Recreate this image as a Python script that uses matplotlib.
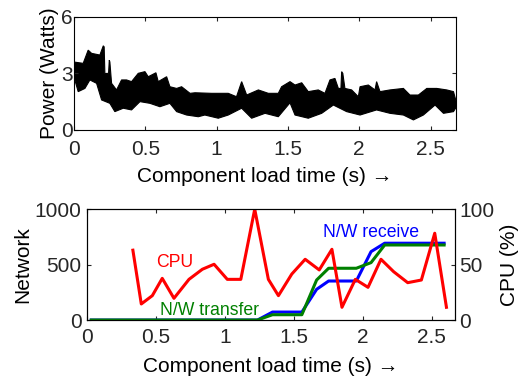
import numpy as np
import matplotlib
matplotlib.use('Agg')
import matplotlib.pyplot as plt

plt.rcParams['font.family'] = ['Liberation Sans', 'DejaVu Sans']

# power trace envelope (Watts)
t_hi = [0.0, 0.065, 0.10, 0.124, 0.182, 0.206, 0.212, 0.217, 0.243, 0.248, 0.252, 0.264, 0.299, 0.334,
        0.369, 0.404, 0.451, 0.498, 0.521, 0.575, 0.591, 0.650, 0.673, 0.72, 0.755, 0.814, 0.849,
        0.965, 1.082, 1.14, 1.176, 1.211, 1.293, 1.363, 1.433, 1.456, 1.515, 1.55, 1.597, 1.643,
        1.713, 1.76, 1.795, 1.830, 1.854, 1.872, 1.877, 1.885, 1.9, 1.947, 1.994, 2.006, 2.064,
        2.111, 2.122, 2.146, 2.216, 2.31, 2.356, 2.415, 2.474, 2.544, 2.614, 2.661, 2.68]
p_hi = [3.6, 3.53, 4.23, 4.06, 3.97, 4.46, 4.4, 2.99, 3.0, 3.70, 3.6, 2.47, 2.12, 2.65,
        2.65, 2.56, 3.0, 3.09, 2.82, 3.03, 2.56, 2.82, 2.29, 2.2, 2.29, 1.94, 1.97,
        1.94, 1.94, 1.76, 2.56, 1.85, 2.12, 1.94, 1.94, 2.29, 2.56, 2.38, 2.5, 2.03,
        2.12, 1.94, 2.65, 2.73, 2.2, 2.2, 3.09, 3.0, 2.2, 2.12, 1.76, 2.29, 2.38,
        2.12, 2.56, 2.03, 2.12, 2.2, 1.85, 1.85, 2.2, 2.2, 2.12, 2.03, 1.5]
t_lo = [0.0, 0.03, 0.077, 0.112, 0.159, 0.194, 0.252, 0.287, 0.346, 0.404, 0.463, 0.533, 0.603,
        0.673, 0.72, 0.79, 0.872, 0.918, 1.012, 1.082, 1.176, 1.246, 1.34, 1.433, 1.515, 1.55,
        1.643, 1.737, 1.819, 1.912, 2.006, 2.122, 2.216, 2.31, 2.38, 2.45, 2.532, 2.591, 2.661, 2.68]
p_lo = [2.82, 2.03, 2.2, 2.65, 2.47, 1.59, 1.41, 0.97, 1.15, 1.06, 1.5, 1.41, 1.23,
        1.41, 0.97, 0.79, 0.7, 0.79, 0.62, 0.79, 1.15, 0.62, 0.88, 0.7, 1.44, 0.79,
        0.62, 0.88, 1.32, 0.97, 0.79, 1.06, 0.88, 0.79, 0.53, 0.79, 1.32, 0.88, 0.97, 1.2]

# CPU utilisation (%)
t_cpu = [0.332, 0.393, 0.473, 0.545, 0.63, 0.739, 0.836, 0.921, 1.017, 1.115, 1.216, 1.315, 1.388,
         1.485, 1.582, 1.684, 1.776, 1.849, 1.946, 2.038, 2.132, 2.224, 2.326, 2.425, 2.522, 2.607]
cpu = [63, 14.5, 22, 37.6, 19.6, 36.7, 45.8, 50.3, 36.7, 36.7, 100, 36.7, 22,
       41.5, 54.8, 45.2, 63.8, 11.5, 36.7, 29.5, 54.8, 43.6, 33.7, 36.1, 78.3, 11.5]

# network
t_net = [0.03, 1.236, 1.345, 1.558, 1.665, 1.752, 1.953, 2.06, 2.159, 2.59]
nw_rx = [0, 0, 72, 72, 277, 352, 352, 617, 693, 693]
nw_tx = [0, 0, 48, 48, 361, 467, 467, 518, 677, 677]

xt = [0, 0.5, 1, 1.5, 2, 2.5]
xtl = ['0', '0.5', '1', '1.5', '2', '2.5']

fig = plt.figure(figsize=(5.28, 3.81), dpi=100)
tick_fs = 15
lab_fs = 15
txt_fs = 12.7

ax1 = fig.add_axes([0.140, 0.659, 0.724, 0.297])
ax1.fill(np.concatenate([t_hi, t_lo[::-1]]), np.concatenate([p_hi, p_lo[::-1]]),
         color='black', lw=0.8, edgecolor='black')
ax1.set_xlim(0, 2.68)
ax1.set_ylim(0, 6)
ax1.set_yticks([0, 3, 6])
ax1.set_xticks(xt)
ax1.set_xticklabels(xtl)
ax1.set_ylabel('Power (Watts)', fontsize=lab_fs, labelpad=1)
ax1.set_xlabel('Component load time (s) \u2192', fontsize=lab_fs, labelpad=6)
ax1.tick_params(direction='in', top=True, right=True, length=3, labelsize=tick_fs,
                colors='#262626')
ax1.tick_params(axis='x', pad=7)
ax1.tick_params(axis='y', pad=1)

ax2 = fig.add_axes([0.165, 0.160, 0.697, 0.291])
ax2.plot(t_net, nw_rx, color='blue', lw=2.2)
ax2.plot(t_net, nw_tx, color='green', lw=2.2)
ax2.set_xlim(0, 2.67)
ax2.set_ylim(0, 1000)
ax2.set_yticks([0, 500, 1000])
ax2.set_xticks(xt)
ax2.set_xticklabels(xtl)
ax2.set_ylabel('Network', fontsize=lab_fs, labelpad=2)
ax2.set_xlabel('Component load time (s) \u2192', fontsize=lab_fs, labelpad=7)
ax2.tick_params(direction='in', top=True, length=3, labelsize=tick_fs, colors='#262626')
ax2.tick_params(axis='x', pad=6)
ax2.tick_params(axis='y', pad=4)
ax2.text(0.885, 90, 'N/W transfer', color='green', fontsize=txt_fs, ha='center', va='center')
ax2.text(2.06, 789, 'N/W receive', color='blue', fontsize=txt_fs, ha='center', va='center')
ax2.text(0.635, 518, 'CPU', color='red', fontsize=txt_fs, ha='center', va='center')

ax3 = ax2.twinx()
ax3.plot(t_cpu, cpu, color='red', lw=2.2)
ax3.set_ylim(0, 100)
ax3.set_yticks([0, 50, 100])
ax3.set_ylabel('CPU (%)', fontsize=lab_fs, labelpad=4)
ax3.tick_params(direction='in', length=3, labelsize=tick_fs, colors='#262626', pad=3)

fig.savefig('out.png', dpi=100)
